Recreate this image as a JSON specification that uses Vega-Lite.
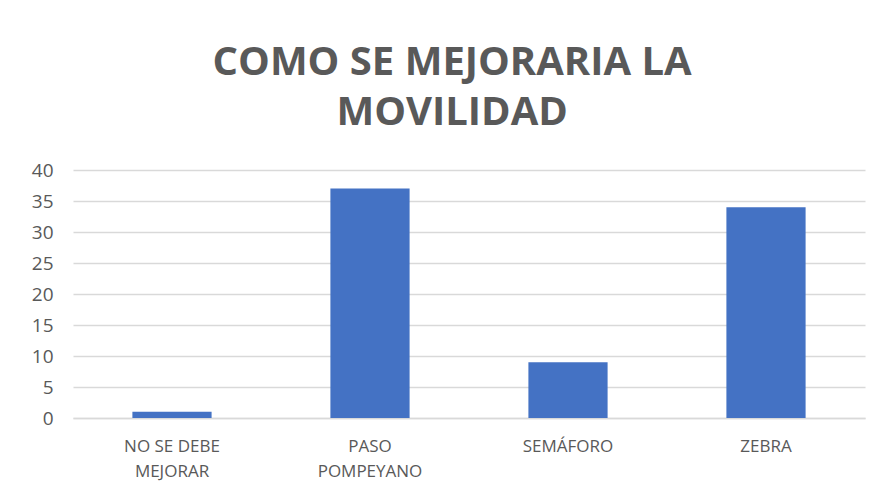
{
  "$schema": "https://vega.github.io/schema/vega-lite/v6.json",
  "autosize": {"type": "none"},
  "width": 792,
  "height": 248,
  "padding": {"left": 73, "top": 170, "right": 18, "bottom": 78},
  "background": "white",
  "title": {
    "text": ["COMO SE MEJORARIA LA", "MOVILIDAD"],
    "font": "Open Sans",
    "fontSize": 40,
    "fontWeight": "bold",
    "color": "#595959",
    "anchor": "middle",
    "frame": "bounds",
    "lineHeight": 50,
    "offset": 28,
    "dx": 4
  },
  "data": {
    "values": [
      {"categoria": "NO SE DEBE MEJORAR", "valor": 1},
      {"categoria": "PASO POMPEYANO", "valor": 37},
      {"categoria": "SEMÁFORO", "valor": 9},
      {"categoria": "ZEBRA", "valor": 34}
    ]
  },
  "mark": {"type": "bar", "color": "#4472C4"},
  "encoding": {
    "x": {
      "field": "categoria",
      "type": "nominal",
      "sort": null,
      "title": null,
      "scale": {"paddingInner": 0.6, "paddingOuter": 0.3},
      "axis": {
        "labelAngle": 0,
        "labelExpr": "datum.label == 'NO SE DEBE MEJORAR' ? ['NO SE DEBE', 'MEJORAR'] : datum.label == 'PASO POMPEYANO' ? ['PASO', 'POMPEYANO'] : datum.label",
        "labelFont": "Open Sans",
        "labelFontSize": 17,
        "labelColor": "#595959",
        "labelLineHeight": 25,
        "labelPadding": 28,
        "labelBaseline": "middle",
        "ticks": false,
        "domainColor": "#d9d9d9",
        "domainWidth": 1.5
      }
    },
    "y": {
      "field": "valor",
      "type": "quantitative",
      "title": null,
      "scale": {"domain": [0, 40]},
      "axis": {
        "values": [0, 5, 10, 15, 20, 25, 30, 35, 40],
        "labelFont": "Open Sans",
        "labelFontSize": 19,
        "labelColor": "#595959",
        "labelPadding": 20,
        "ticks": false,
        "domain": false,
        "gridColor": "#d9d9d9",
        "gridWidth": 1.5
      }
    }
  },
  "config": {"view": {"stroke": null}}
}
